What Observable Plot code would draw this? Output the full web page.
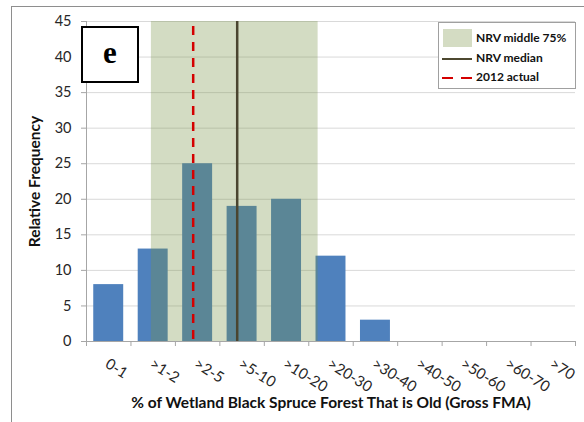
<!DOCTYPE html>
<html><head><meta charset="utf-8">
<script src="https://cdn.jsdelivr.net/npm/d3@7"></script>
<script src="https://cdn.jsdelivr.net/npm/@observablehq/plot@0.6"></script>
<style>
body{margin:0;background:#fff;font-family:Lato,"Open Sans",sans-serif;}
#wrap{position:relative;width:584px;height:422px;overflow:hidden;background:#fff;}
#frame{position:absolute;left:11px;top:6px;width:620px;height:520px;border:1.5px solid #8e8e8e;box-sizing:border-box;}
#chart{position:absolute;left:0;top:0;}
#tag{position:absolute;left:81px;top:26px;width:58px;height:57px;box-sizing:border-box;border:2px solid #000;background:#fff;font:bold 31px "Liberation Serif","DejaVu Serif",serif;display:flex;align-items:center;justify-content:center;padding-bottom:3px;}
#legend{position:absolute;left:438px;top:22px;width:138px;height:67px;box-sizing:border-box;border:1px solid #a0a0a0;background:#fff;}
#legend div{position:absolute;}
#legend .t{left:37px;height:16px;line-height:16px;font:bold 12px Lato,"Open Sans",sans-serif;color:#111;white-space:nowrap;}
</style></head>
<body>
<div id="wrap">
<div id="frame"></div>
<div id="chart"></div>
<div id="tag">e</div>
<div id="legend">
  <div style="left:4px;top:6px;width:29px;height:18px;background:#d4dcc3;"></div>
  <div class="t" style="top:7px;">NRV middle 75%</div>
  <div style="left:3px;top:34.5px;width:30px;height:2.5px;background:#4d4830;"></div>
  <div class="t" style="top:27px;">NRV median</div>
  <div style="left:3px;top:53.5px;width:11px;height:2.5px;background:#d40000;"></div>
  <div style="left:22px;top:53.5px;width:11px;height:2.5px;background:#d40000;"></div>
  <div class="t" style="top:46px;">2012 actual</div>
</div>
</div>
<script>
const categories = ["0-1", ">1-2", ">2-5", ">5-10", ">10-20", ">20-30", ">30-40", ">40-50", ">50-60", ">60-70", ">70"];
const frequency = [8, 13, 25, 19, 20, 12, 3, 0, 0, 0, 0];
const yTicks = [0, 5, 10, 15, 20, 25, 30, 35, 40, 45];
// NRV values expressed in category-index units along the x axis
const nrvMiddle75 = [1.46, 5.21];
const nrvMedian = 3.39;
const actual2012 = 2.40;
const yLabel = "Relative Frequency";
const xLabel = "% of Wetland Black Spruce Forest That is Old (Gross FMA)";

const bars = categories.map((c, i) => ({cat: c, i, value: frequency[i]}));
const gap = 0.163;

const chart = Plot.plot({
  width: 584, height: 422,
  marginLeft: 86, marginRight: 9, marginTop: 21, marginBottom: 81,
  x: {type: "linear", domain: [0, categories.length], axis: null},
  y: {domain: [0, 45], axis: null},
  style: {fontFamily: "Lato, 'Open Sans', sans-serif", background: "transparent", color: "#262626"},
  marks: [
    Plot.gridY(yTicks, {stroke: "#d9d9d9", strokeOpacity: 1, strokeWidth: 1}),
    Plot.rectY(bars, {x1: d => d.i + gap, x2: d => d.i + 1 - gap, y: "value", fill: "#4f81bd"}),
    Plot.rect([nrvMiddle75], {x1: d => d[0], x2: d => d[1], y1: 0, y2: 45, fill: "rgb(117,146,67)", fillOpacity: 0.32}),
    Plot.ruleX([nrvMedian], {stroke: "#4a4530", strokeWidth: 2.5}),
    Plot.ruleX([actual2012], {stroke: "#d40000", strokeWidth: 2.5, strokeDasharray: "9,7", strokeDashoffset: 11}),
    Plot.ruleX([0], {stroke: "#a6a6a6"}),
    Plot.ruleY([0], {stroke: "#a6a6a6"}),
    Plot.axisY(yTicks, {label: null, tickSize: 5, tickPadding: 10, stroke: "#a6a6a6", fontSize: 14.5, fill: "#262626"}),
    Plot.axisX(d3.range(categories.length + 1), {label: null, tickSize: 5, tickFormat: () => "", stroke: "#a6a6a6"}),
    Plot.text(bars, {x: d => d.i + 0.5, y: 0, text: "cat", rotate: 32, textAnchor: "start", dy: 21, dx: -2, fontSize: 15, fill: "#262626"}),
    Plot.text([yLabel], {frameAnchor: "left", textAnchor: "middle", rotate: -90, dx: -51, fontWeight: "bold", fontSize: 15.5, fill: "#111"}),
    Plot.text([xLabel], {frameAnchor: "bottom", textAnchor: "middle", dy: 66, fontWeight: "bold", fontSize: 15.5, fill: "#111"})
  ]
});
document.getElementById("chart").appendChild(chart);
</script>
</body></html>
